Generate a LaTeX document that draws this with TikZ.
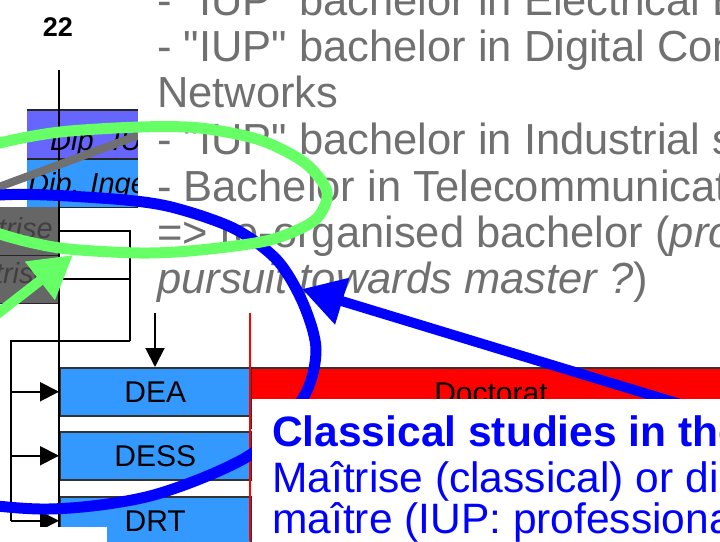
\documentclass[tikz,border=0pt]{standalone}
\usepackage{fontspec}
\setmainfont{Liberation Sans}[Ligatures=TeXOff]
\usetikzlibrary{arrows.meta}

\definecolor{boxviolet}{HTML}{6666FF}
\definecolor{boxblue}{HTML}{3399FF}
\definecolor{boxgrey}{HTML}{666666}
\definecolor{textgrey}{HTML}{707070}
\definecolor{hlgreen}{HTML}{66FF66}
\definecolor{hlblue}{HTML}{0000FF}
\definecolor{docred}{HTML}{FF0000}

\begin{document}
\begin{tikzpicture}[x=1pt, y=-1pt,
  boxlabel/.style={font=\fontsize{30}{34}\selectfont, inner sep=0pt},
  diplabel/.style={font=\fontsize{29}{33}\selectfont\itshape, inner sep=0pt, anchor=base west},
  mastlabel/.style={font=\fontsize{29}{33}\selectfont\itshape, text=black!75, inner sep=0pt, anchor=base east},
  levelbox/.style={draw=black!80, line width=1.5pt, inner sep=0pt, anchor=north west},
  flatbox/.style={inner sep=0pt, anchor=north west, draw=none},
  edge/.style={draw=black!85, line width=1.5pt},
  bodyline/.style={font=\fontsize{43.5}{46}\selectfont, text=textgrey, inner sep=0pt, anchor=base west},
  noteline/.style={font=\fontsize{42.5}{46}\selectfont, text=hlblue, inner sep=0pt, anchor=base west},
  link/.style={line width=2pt, black},
  linkarrow/.style={link, -{Triangle[length=19pt,width=19pt]}},
  ring/.style={line width=11pt},
  pointer/.style={line width=10pt, -{Triangle[length=42pt,width=46pt]}},
]
\useasboundingbox (0,0) rectangle (720,541);
\clip (0,0) rectangle (720,541);

% diploma boxes at the top left
\node[flatbox, fill=boxviolet, minimum width=233pt, minimum height=49pt] (dipA) at (27,110) {};
\node[flatbox, fill=boxblue, minimum width=233pt, minimum height=48pt] (dipB) at (27,159) {};
\draw[edge] (dipA.north west) -- (dipA.north east);
\draw[edge] (dipB.north west) -- (dipB.north east);
\draw[edge] (dipB.south west) -- (dipB.south east);
\node[diplabel] (dipAtext) at (50,150) {Dip. IUP};
\node[diplabel] (dipBtext) at (28,193) {Dip. Ingénieur};

% maitrise boxes
\node[flatbox, fill=boxgrey, minimum width=80pt, minimum height=48pt] (mastA) at (-21,207) {};
\node[flatbox, fill=boxgrey, minimum width=80pt, minimum height=48pt] (mastB) at (-21,255) {};
\draw[edge] (mastA.south west) -- (mastA.south east);
\draw[edge] (mastB.south west) -- (mastB.south east);
\node[mastlabel] (mastAtext) at (53,238) {Maîtrise};
\node[mastlabel] (mastBtext) at (50,283) {Maîtrise};

% third cycle diplomas
\node[levelbox, fill=boxblue, minimum width=191pt, minimum height=48pt, boxlabel] (dea) at (59,367) {DEA};
\node[levelbox, fill=boxblue, minimum width=191pt, minimum height=48pt, boxlabel] (dess) at (59,431) {DESS};
\node[levelbox, fill=boxblue, minimum width=191pt, minimum height=48pt, boxlabel] (drt) at (59,496) {DRT};
\node[levelbox, fill=docred, minimum width=500pt, minimum height=60pt] (doct) at (250,367) {};
\node[boxlabel, anchor=base] (docttext) at (491,403) {Doctorat};

% connectors
\coordinate (stemtop) at (59,70);
\coordinate (stembot) at (59,541);
\draw[link] (stemtop) -- (stembot);
\coordinate (join) at (130,341);
\coordinate (rail) at (11,341);
\draw[link] (mastA.east) -| (join);
\draw[link] (mastB.east) -- (mastB.east -| join);
\draw[link] (join) -- (rail) -- (rail |- drt.west);
\draw[linkarrow] (rail |- dea.west) -- (dea.west);
\draw[linkarrow] (rail |- dess.west) -- (dess.west);
\draw[linkarrow] (rail |- drt.west) -- (drt.west);
\coordinate (feed) at (155,313);
\draw[linkarrow] (feed) -- (feed |- dea.north);

% grey stroke across the diploma boxes
\coordinate (slashA) at (-20,194);
\coordinate (slashB) at (150,131);
\draw[line width=8pt, textgrey] (slashA) -- (slashB);

% white cover in the lower left corner
\node[flatbox, fill=white, minimum width=107pt, minimum height=20pt] (cornermask) at (0,527) {};

% bulleted text block
\node[flatbox, fill=white, minimum width=600pt, minimum height=318pt] (bodypanel) at (138,-5) {};
\node[bodyline] (l1) at (157,15) {- "IUP" bachelor in Electrical Engineering};
\node[bodyline] (l2) at (157,61) {- "IUP" bachelor in Digital Communication and};
\node[bodyline] (l3) at (157,107) {Networks};
\node[bodyline] (l4) at (157,154) {- "IUP" bachelor in Industrial systems};
\node[bodyline] (l5) at (157,201) {- Bachelor in Telecommunications};
\node[bodyline] (l6) at (157,247) {=> re-organised bachelor (\textit{professional}};
\node[bodyline] (l7) at (157,293) {\textit{pursuit towards master ?})};

% red border line of the doctorate column
\coordinate (redtop) at (250,313);
\coordinate (redbot) at (250,541);
\draw[docred, line width=2pt] (redtop) -- (redbot);

% highlight rings and pointers
\draw[ring, hlblue] plot[smooth cycle] coordinates {
  (-240,350) (-200,262) (-110,212) (0,195) (100,198) (167,206) (233,228)
  (277,260) (303,303) (316,350) (303,398) (250,455) (150,496) (40,509)
  (-80,492) (-190,440)};
\coordinate (btail) at (700,410);
\coordinate (bhead) at (302,289);
\draw[pointer, hlblue] (btail) -- (bhead);

\draw[ring, hlgreen] plot[smooth cycle] coordinates {
  (0,143) (60,132) (140,127) (200,128) (260,140) (305,163) (327,192)
  (315,220) (270,240) (200,250) (140,253) (60,248) (0,234) (-50,212)
  (-65,188) (-45,160)};
\coordinate (gtail) at (-22,329);
\coordinate (ghead) at (73,255);
\draw[pointer, hlgreen] (gtail) -- (ghead);

% note panel
\node[flatbox, fill=white, minimum width=480pt, minimum height=150pt] (notepanel) at (252,399) {};
\node[noteline, font=\fontsize{42.5}{46}\selectfont\bfseries] (n1) at (272,446) {Classical studies in the};
\node[noteline] (n2) at (272,492) {Maîtrise (classical) or diplôme};
\node[noteline] (n3) at (272,533) {maître (IUP: professional};

% page number
\node[font=\fontsize{27}{30}\selectfont\bfseries, inner sep=0pt, anchor=base] (pagenum) at (58,36) {22};
\end{tikzpicture}
\end{document}
